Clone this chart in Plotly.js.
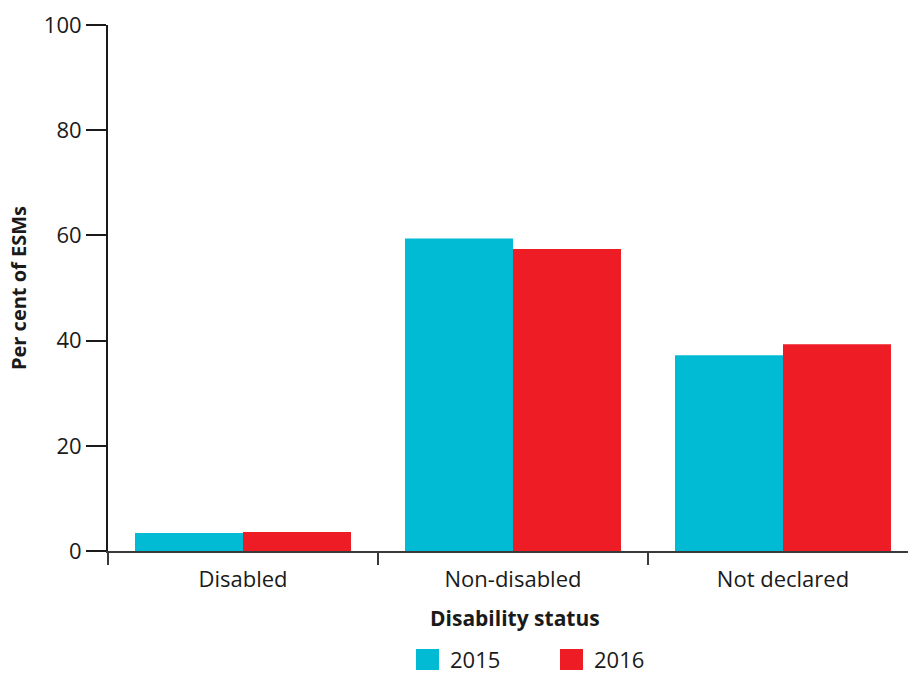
<!DOCTYPE html>
<html>
<head>
<meta charset="utf-8">
<script src="https://cdn.plot.ly/plotly-3.0.1.min.js"></script>
<style>html,body{margin:0;padding:0;background:#fff;}#chart{width:909px;height:673px;}</style>
</head>
<body>
<div id="chart"></div>
<script>
const categories = ["Disabled", "Non-disabled", "Not declared"];
const values2015 = [3.4, 59.4, 37.2];
const values2016 = [3.6, 57.4, 39.3];
const seriesNames = ["2015", "2016"];
const seriesColors = ["#00BBD3", "#EE1D25"];
const yTicks = [0, 20, 40, 60, 80, 100];

const FONT = "Open Sans, sans-serif";
const TXT = "#1a1a1a";
const data = [
  {type: "bar", name: seriesNames[0], x: categories, y: values2015,
   marker: {color: seriesColors[0], line: {width: 0}}, hoverinfo: "x+y"},
  {type: "bar", name: seriesNames[1], x: categories, y: values2016,
   marker: {color: seriesColors[1], line: {width: 0}}, hoverinfo: "x+y"}
];

// legend drawn as swatches + labels below the axis title
const legendX = [[0.385, 0.41375], [0.565, 0.59375]];
const shapes = seriesNames.map((n, i) => ({
  type: "rect", xref: "paper", yref: "paper",
  x0: legendX[i][0], x1: legendX[i][1], y0: -0.2262, y1: -0.1863,
  fillcolor: seriesColors[i], line: {width: 0}
}));
const annotations = seriesNames.map((n, i) => ({
  text: n, xref: "paper", yref: "paper", x: legendX[i][1] + 0.0115, y: -0.2053,
  xanchor: "left", yanchor: "middle", showarrow: false,
  font: {family: FONT, size: 22, color: TXT}
}));
annotations.push({
  text: "<b>Disability status</b>", xref: "paper", yref: "paper", x: 0.5085, y: -0.1274,
  xanchor: "center", yanchor: "middle", showarrow: false,
  font: {family: FONT, size: 21, color: TXT}
});

const layout = {
  width: 909, height: 673,
  margin: {l: 108, r: 1, t: 25, b: 122, autoexpand: false},
  paper_bgcolor: "#fff", plot_bgcolor: "#fff",
  font: {family: FONT, size: 22, color: TXT},
  barmode: "group", bargap: 0.2, bargroupgap: 0,
  showlegend: false,
  shapes: shapes, annotations: annotations,
  xaxis: {
    type: "category", range: [-0.5, 2.463], automargin: false,
    showline: true, linecolor: "#3a3a3a", linewidth: 2,
    ticks: "outside", tickson: "boundaries", ticklen: 12, tickcolor: "#3a3a3a", tickwidth: 2,
    ticklabelstandoff: 8,
    showgrid: false, zeroline: false,
    tickfont: {family: FONT, size: 22, color: TXT}
  },
  yaxis: {
    range: [0, 100], tickvals: yTicks, ticktext: yTicks.map(String), automargin: false,
    showline: true, linecolor: TXT, linewidth: 2,
    ticks: "outside", ticklen: 20, tickcolor: TXT, tickwidth: 2,
    showgrid: false, zeroline: false,
    tickfont: {family: FONT, size: 22, color: TXT},
    title: {text: "<b>Per cent of ESMs</b>", font: {family: FONT, size: 20, color: TXT}, standoff: 12}
  }
};
Plotly.newPlot("chart", data, layout, {displayModeBar: false, staticPlot: true});
</script>
</body>
</html>
